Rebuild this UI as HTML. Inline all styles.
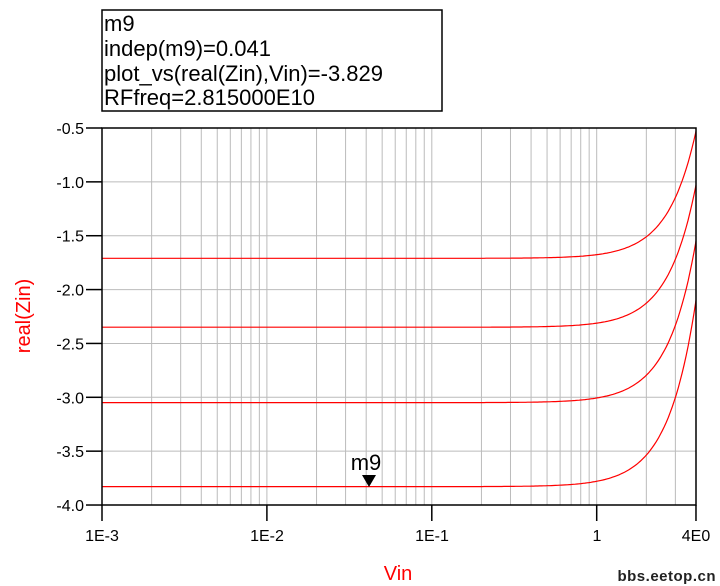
<!DOCTYPE html>
<html><head><meta charset="utf-8"><style>
body{margin:0;background:#fff;width:720px;height:586px;overflow:hidden}
svg{display:block;font-family:"Liberation Sans",Arial,sans-serif}
</style></head><body>
<svg id="s" width="720" height="586" xmlns="http://www.w3.org/2000/svg">
<rect x="102" y="10" width="340" height="101" fill="#fff" stroke="#000" stroke-width="1.5"/>
<g font-size="22" fill="#000">
<text x="104" y="31">m9</text>
<text x="104" y="56">indep(m9)=0.041</text>
<text x="104" y="81">plot_vs(real(Zin),Vin)=-3.829</text>
<text x="104" y="105">RFfreq=2.815000E10</text>
</g>
<g id="grid" stroke="#bbb" stroke-width="1"></g>
<g id="curves" fill="none" stroke="#f00" stroke-width="1.2"></g>
<rect x="102" y="128" width="594" height="377" fill="none" stroke="#000" stroke-width="1.5"/>
<g id="ticks" stroke="#000" stroke-width="1.5"></g>
<g id="ylab" font-size="16" text-anchor="end" fill="#000"></g>
<g font-size="16" text-anchor="middle" fill="#000">
<text x="102" y="541">1E-3</text><text x="267" y="541">1E-2</text><text x="432" y="541">1E-1</text><text x="597" y="541">1</text><text x="696" y="541">4E0</text>
</g>
<text x="366" y="470" font-size="22" text-anchor="middle">m9</text>
<polygon points="362,475 376,475 369,487" fill="#000"/>
<text x="398" y="580" font-size="20" fill="#f00" text-anchor="middle">Vin</text>
<text transform="translate(30,316) rotate(-90)" font-size="20" fill="#f00" text-anchor="middle">real(Zin)</text>
<text x="716" y="581" font-size="15" font-weight="bold" fill="#222" text-anchor="end" letter-spacing="0.5">bbs.eetop.cn</text>
</svg>
<script>
var NS="http://www.w3.org/2000/svg";
function X(v){return 102+(Math.log10(v)+3)*164.9}
function Y(v){return 128+(-0.5-v)*107.7}
function el(p,t,a){var e=document.createElementNS(NS,t);for(var k in a)e.setAttribute(k,a[k]);document.getElementById(p).appendChild(e);}
for(var d=-3;d<=0;d++)for(var m=1;m<=9;m++){var v=m*Math.pow(10,d);if(v>=4||v<=0.001)continue;var x=X(v);el("grid","line",{x1:x,x2:x,y1:128,y2:505});}
for(var i=1;i<7;i++){var y=128+i*53.86;el("grid","line",{x1:102,x2:696,y1:y,y2:y});}
for(var i=0;i<=7;i++){var y=128+i*53.86;el("ticks","line",{x1:86,x2:102,y1:y,y2:y});
var t=document.createElementNS(NS,"text");t.setAttribute("x",84);t.setAttribute("y",y+6);t.textContent=(-0.5-0.5*i).toFixed(1);document.getElementById("ylab").appendChild(t);}
[0.001,0.01,0.1,1,4].forEach(function(v){var x=X(v);el("ticks","line",{x1:x,x2:x,y1:505,y2:521});});
[[-1.71,1.18],[-2.35,1.32],[-3.05,1.5],[-3.83,1.73]].forEach(function(c){
var r=c[1]/Math.pow(4,2.56),p="";for(var i=0;i<=300;i++){var lv=-3+i*3.602/300,v=Math.pow(10,lv);var val=c[0]+r*Math.pow(v,2.56);p+=(i?"L":"M")+X(v).toFixed(1)+","+Y(val).toFixed(1);}
el("curves","path",{d:p});});
</script>
</body></html>
